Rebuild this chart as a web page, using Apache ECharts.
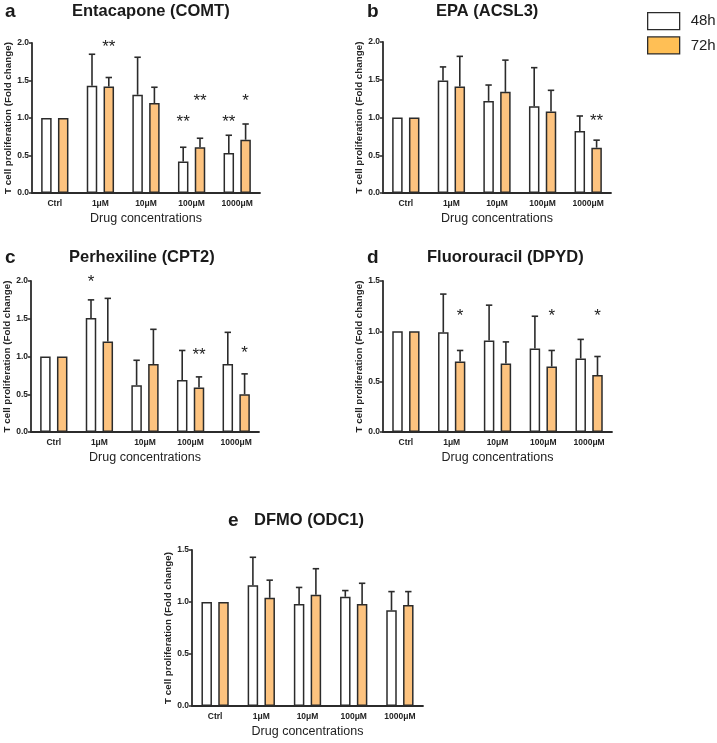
<!DOCTYPE html>
<html>
<head>
<meta charset="utf-8">
<script src="https://cdn.jsdelivr.net/npm/echarts@6/dist/echarts.min.js"></script>
<style>
html,body{margin:0;padding:0;background:#fff;}
#chart{width:717px;height:743px;}
</style>
</head>
<body>
<div id="chart"></div>
<script>
// ---------- DATA ----------
const categories = ['Ctrl', '1μM', '10μM', '100μM', '1000μM'];
const seriesNames = ['48h', '72h'];

// Panel a: Entacapone (COMT)
const a48 = [1.00, 1.43, 1.31, 0.42, 0.535];
const a48sd = [0, 0.42, 0.50, 0.19, 0.235];
const a72 = [1.00, 1.42, 1.20, 0.61, 0.71];
const a72sd = [0, 0.12, 0.21, 0.12, 0.21];
const aStars = [[1, 1, 2.0, '**'], [3, 0, 1.0, '**'], [3, 1, 1.28, '**'], [4, 0, 1.0, '**'], [4, 1, 1.28, '*']];

// Panel b: EPA (ACSL3)
const b48 = [1.00, 1.49, 1.22, 1.15, 0.82];
const b48sd = [0, 0.18, 0.21, 0.51, 0.20];
const b72 = [1.00, 1.41, 1.34, 1.08, 0.60];
const b72sd = [0, 0.40, 0.42, 0.28, 0.10];
const bStars = [[4, 1, 1.0, '**']];

// Panel c: Perhexiline (CPT2)
const c48 = [1.00, 1.51, 0.62, 0.69, 0.90];
const c48sd = [0, 0.24, 0.33, 0.39, 0.42];
const c72 = [1.00, 1.20, 0.90, 0.59, 0.50];
const c72sd = [0, 0.57, 0.46, 0.14, 0.27];
const cStars = [[1, 0, 2.03, '*'], [3, 1, 1.07, '**'], [4, 1, 1.09, '*']];

// Panel d: Fluorouracil (DPYD)
const d48 = [1.00, 0.99, 0.91, 0.83, 0.73];
const d48sd = [0, 0.38, 0.35, 0.32, 0.19];
const d72 = [1.00, 0.70, 0.68, 0.65, 0.565];
const d72sd = [0, 0.11, 0.215, 0.16, 0.185];
const dStars = [[1, 1, 1.19, '*'], [3, 1, 1.19, '*'], [4, 1, 1.19, '*']];

// Panel e: DFMO (ODC1)
const e48 = [1.00, 1.16, 0.98, 1.05, 0.92];
const e48sd = [0, 0.27, 0.16, 0.06, 0.18];
const e72 = [1.00, 1.04, 1.07, 0.98, 0.97];
const e72sd = [0, 0.17, 0.25, 0.20, 0.13];
const eStars = [];

// ---------- STYLE / LAYOUT ----------
const FONT = '"Liberation Sans", Arial, sans-serif';
const INK = '#2b2b2b';
const ORANGE = '#FDC37F';
const LEGEND_ORANGE = '#FFBF55';
const BAR_W = 10.5;
const BAR_GAP_PX = 6.3;
const OFFSET = (BAR_W + BAR_GAP_PX) / 2;

const panels = [
  {letter: 'a', title: 'Entacapone (COMT)', grid: {left: 32, top: 43, width: 228, height: 150}, max: 2, d48: a48, s48: a48sd, d72: a72, s72: a72sd, stars: aStars, titleLeft: 72, letterLeft: 5, titleTop: 3},
  {letter: 'b', title: 'EPA (ACSL3)', grid: {left: 383, top: 42, width: 228, height: 151}, max: 2, d48: b48, s48: b48sd, d72: b72, s72: b72sd, stars: bStars, titleLeft: 436, letterLeft: 367, titleTop: 3},
  {letter: 'c', title: 'Perhexiline (CPT2)', grid: {left: 31, top: 281, width: 228, height: 151}, max: 2, d48: c48, s48: c48sd, d72: c72, s72: c72sd, stars: cStars, titleLeft: 69, letterLeft: 5, titleTop: 249},
  {letter: 'd', title: 'Fluorouracil (DPYD)', grid: {left: 383, top: 281, width: 229, height: 151}, max: 1.5, d48: d48, s48: d48sd, d72: d72, s72: d72sd, stars: dStars, titleLeft: 427, letterLeft: 367, titleTop: 249},
  {letter: 'e', title: 'DFMO (ODC1)', grid: {left: 192, top: 550, width: 231, height: 156}, max: 1.5, d48: e48, s48: e48sd, d72: e72, s72: e72sd, stars: eStars, titleLeft: 254, letterLeft: 228, titleTop: 512}
];

const grids = [], xAxes = [], yAxes = [], series = [], titles = [];

panels.forEach((p, i) => {
  grids.push(p.grid);
  titles.push({text: p.letter, left: p.letterLeft, top: p.titleTop - 1, padding: 0,
    textStyle: {fontFamily: FONT, fontSize: 19, fontWeight: 'bold', color: '#1a1a1a'}});
  titles.push({text: p.title, left: p.titleLeft, top: p.titleTop, padding: 0,
    textStyle: {fontFamily: FONT, fontSize: 16.5, fontWeight: 'bold', color: '#1a1a1a'}});
  xAxes.push({
    type: 'category', gridIndex: i, data: categories,
    name: 'Drug concentrations', nameLocation: 'middle', nameGap: 19,
    nameTextStyle: {fontFamily: FONT, fontSize: 12.5, color: '#222'},
    axisLine: {lineStyle: {color: INK, width: 1.8}},
    axisTick: {alignWithLabel: true, length: 4, lineStyle: {color: INK, width: 1.5}},
    axisLabel: {fontFamily: FONT, fontSize: 8.5, fontWeight: 'bold', color: '#222', margin: 6, interval: 0},
    splitLine: {show: false}
  });
  yAxes.push({
    type: 'value', gridIndex: i, min: 0, max: p.max, interval: 0.5,
    name: 'T cell proliferation (Fold change)', nameLocation: 'middle', nameGap: 19, nameRotate: 90,
    nameTextStyle: {fontFamily: FONT, fontSize: 9.8, fontWeight: 'bold', color: '#222'},
    axisLine: {show: true, lineStyle: {color: INK, width: 1.8}},
    axisTick: {show: true, length: 3, lineStyle: {color: INK, width: 1.5}},
    axisLabel: {fontFamily: FONT, fontSize: 8.5, fontWeight: 'bold', color: '#222', margin: 3,
      formatter: v => v.toFixed(1)},
    splitLine: {show: false}
  });
  const barCommon = {
    type: 'bar', xAxisIndex: i, yAxisIndex: i, barWidth: BAR_W, barGap: (BAR_GAP_PX / BAR_W * 100) + '%',
    emphasis: {disabled: true}, animation: false
  };
  series.push(Object.assign({}, barCommon, {name: seriesNames[0], data: p.d48,
    itemStyle: {color: '#ffffff', borderColor: INK, borderWidth: 1.5}}));
  series.push(Object.assign({}, barCommon, {name: seriesNames[1], data: p.d72,
    itemStyle: {color: ORANGE, borderColor: INK, borderWidth: 1.5}}));
  // error bars (mean + SD, upper side only)
  const errData = [];
  p.d48.forEach((v, k) => errData.push([k, v, p.s48[k], -1]));
  p.d72.forEach((v, k) => errData.push([k, v, p.s72[k], 1]));
  series.push({
    type: 'custom', xAxisIndex: i, yAxisIndex: i, data: errData, z: 5, animation: false, silent: true,
    renderItem: (params, api) => {
      const cat = api.value(0), mean = api.value(1), sd = api.value(2), side = api.value(3);
      if (!(sd > 0)) return null;
      const base = api.coord([cat, mean]);
      const tip = api.coord([cat, mean + sd]);
      const x = base[0] + side * OFFSET;
      const st = {stroke: INK, lineWidth: 1.6};
      return {type: 'group', children: [
        {type: 'line', shape: {x1: x, y1: base[1], x2: x, y2: tip[1]}, style: st},
        {type: 'line', shape: {x1: x - 3.2, y1: tip[1], x2: x + 3.2, y2: tip[1]}, style: st}
      ]};
    }
  });
  // significance stars
  series.push({
    type: 'custom', xAxisIndex: i, yAxisIndex: i, data: p.stars.map(s => [s[0], s[2]]),
    z: 6, animation: false, silent: true,
    renderItem: (params, api) => {
      const s = p.stars[params.dataIndex];
      const pt = api.coord([s[0], s[2]]);
      return {type: 'text', x: pt[0] + (s[1] === 0 ? -1 : 1) * OFFSET, y: pt[1] + 4,
        style: {text: s[3], fontFamily: FONT, fontSize: 17, fill: '#222', align: 'center', verticalAlign: 'middle'}};
    }
  });
});

const chart = echarts.init(document.getElementById('chart'), null, {renderer: 'canvas'});
chart.setOption({
  backgroundColor: '#ffffff',
  animation: false,
  title: titles,
  legend: {
    orient: 'vertical', left: 647, top: 12, itemWidth: 32, itemHeight: 17, itemGap: 6, padding: 0,
    icon: 'rect', selectedMode: false,
    textStyle: {fontFamily: FONT, fontSize: 15, color: '#222', padding: [0, 0, 0, 6]},
    data: [
      {name: seriesNames[0], itemStyle: {color: '#ffffff', borderColor: INK, borderWidth: 1.3}},
      {name: seriesNames[1], itemStyle: {color: LEGEND_ORANGE, borderColor: INK, borderWidth: 1.3}}
    ]
  },
  grid: grids,
  xAxis: xAxes,
  yAxis: yAxes,
  series: series
});
</script>
</body>
</html>
